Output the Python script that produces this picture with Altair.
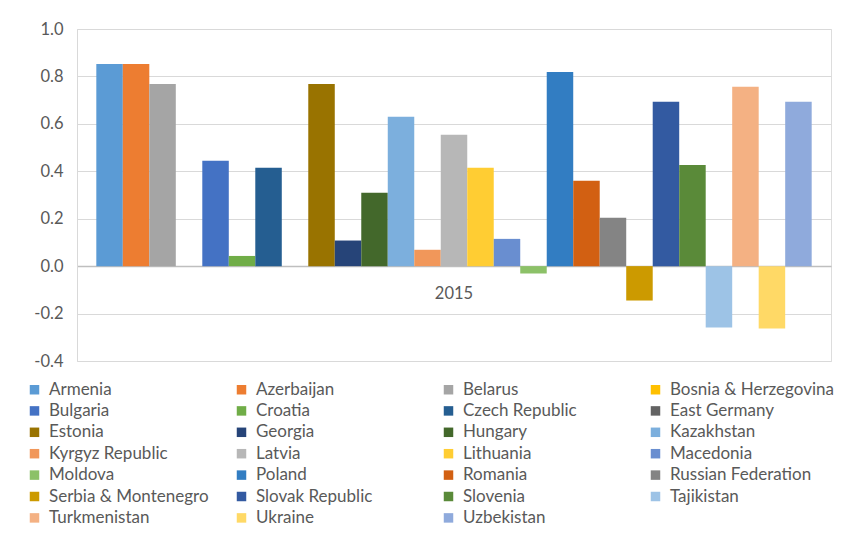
import altair as alt
import pandas as pd

countries = ["Armenia", "Azerbaijan", "Belarus", "Bosnia & Herzegovina", "Bulgaria",
             "Croatia", "Czech Republic", "East Germany", "Estonia", "Georgia",
             "Hungary", "Kazakhstan", "Kyrgyz Republic", "Latvia", "Lithuania",
             "Macedonia", "Moldova", "Poland", "Romania", "Russian Federation",
             "Serbia & Montenegro", "Slovak Republic", "Slovenia", "Tajikistan",
             "Turkmenistan", "Ukraine", "Uzbekistan"]
values = [0.852, 0.852, 0.768, None, 0.444,
          0.043, 0.415, None, 0.768, 0.108,
          0.309, 0.630, 0.069, 0.554, 0.415,
          0.115, -0.031, 0.819, 0.360, 0.204,
          -0.145, 0.693, 0.427, -0.259,
          0.756, -0.263, 0.693]
colors = ["#5B9BD5", "#ED7D31", "#A5A5A5", "#FFC000", "#4472C4",
          "#70AD47", "#255E91", "#636363", "#997300", "#264478",
          "#43682B", "#7CAFDD", "#F1975A", "#B7B7B7", "#FFCD33",
          "#698ED0", "#8CC168", "#327DC2", "#D26012", "#848484",
          "#CC9A00", "#335AA1", "#5A8A39", "#9DC3E6",
          "#F4B183", "#FFD966", "#8FAADC"]
year = "2015"

df = pd.DataFrame({"country": countries, "value": values, "year": year})

FONT = "Lato"
TXT = "#595959"

chart = alt.Chart(df).mark_bar().encode(
    x=alt.X("year:N", title=None,
            scale=alt.Scale(paddingInner=0, paddingOuter=0.027),
            axis=alt.Axis(orient="bottom", offset=-94.9, domainColor="#BFBFBF",
                          domainWidth=1.5, ticks=False, labelPadding=19,
                          labelFontSize=16.5, labelColor=TXT, labelFont=FONT,
                          labelAngle=0, grid=False)),
    xOffset=alt.XOffset("country:N", sort=countries,
                        scale=alt.Scale(domain=countries, paddingInner=0, paddingOuter=0)),
    y=alt.Y("value:Q", title=None,
            scale=alt.Scale(domain=[-0.4, 1.0], nice=False, zero=False),
            axis=alt.Axis(values=[-0.4, -0.2, 0.0, 0.2, 0.4, 0.6, 0.8, 1.0],
                          labelExpr="replace(format(datum.value, '.1f'), '\u2212', '-')",
                          gridColor="#D9D9D9", domainColor="#D9D9D9", ticks=False,
                          labelPadding=14, labelFontSize=16.5, labelColor=TXT,
                          labelFont=FONT)),
    color=alt.Color("country:N", sort=countries,
                    scale=alt.Scale(domain=countries, range=colors),
                    legend=alt.Legend(title=None, orient="none", legendX=-51, legendY=352,
                                      direction="horizontal",
                                      columns=4, gridAlign="all", columnPadding=20,
                                      rowPadding=3.4, symbolType="square", symbolSize=90,
                                      symbolStrokeWidth=0, labelFontSize=17,
                                      labelColor=TXT, labelFont=FONT, labelOffset=6,
                                      labelLimit=300)),
).properties(
    width=754, height=332,
    autosize=alt.AutoSizeParams(type="none"),
    padding={"left": 69, "top": 21, "right": 27, "bottom": 176},
).configure_view(stroke="#D9D9D9").configure(background="white")

chart.save("out.html", embed_options={"renderer": "svg", "actions": False})
